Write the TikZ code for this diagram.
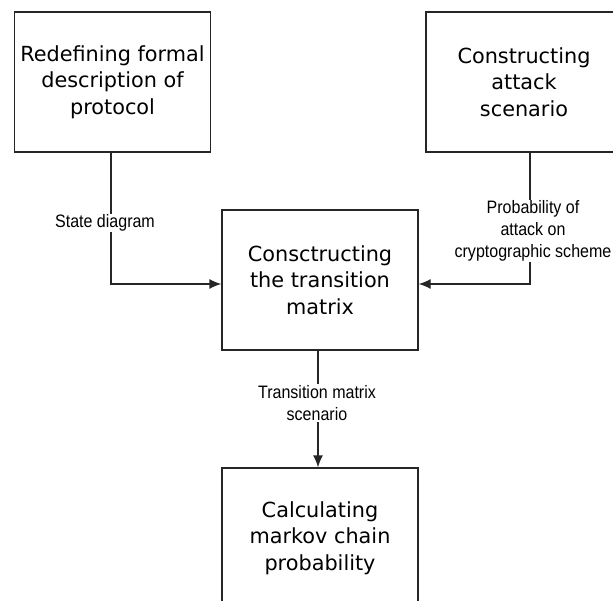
\documentclass[tikz,border=0pt]{standalone}
\usepackage{fontspec}
\usetikzlibrary{arrows.meta}
\newfontfamily\boxfont{DejaVu Sans}
\newfontfamily\lblfont[FakeStretch=0.89]{Liberation Sans}
\begin{document}
\begin{tikzpicture}[x=1pt,y=-1pt,
  stage/.style={draw=black!85,line width=1.3pt,minimum width=196pt,minimum height=140pt,
    align=center,inner sep=0pt,font=\boxfont\fontsize{20.8}{26.5}\selectfont},
  lbl/.style={fill=white,align=center,inner sep=1pt,font=\lblfont\fontsize{18}{22}\selectfont},
  conn/.style={line width=1.3pt,draw=black!85,-{Latex[length=12pt,width=10pt]}}]
\useasboundingbox (0,0) rectangle (613,601);
\clip (0,0) rectangle (613,601);
\node[stage] (b1) at (112.5,82) {Redefining formal\\description of\\protocol};
\node[stage] (b2) at (524,82) {Constructing\\attack\\scenario};
\node[stage] (b3) at (320,280) {Consctructing\\the transition\\matrix};
\node[stage] (b4) at (320,538) {Calculating\\markov chain\\probability};
\draw[conn] ([xshift=-1.5pt]b1.south) |- ([yshift=-4pt]b3.west);
\draw[conn] ([xshift=6pt]b2.south) |- ([yshift=-4pt]b3.east);
\draw[conn] ([xshift=-2pt]b3.south) -- ([xshift=-2pt]b4.north);
\node[lbl] (l1) at (105,223) {State diagram};
\node[lbl] (l2) at (533,231) {Probability of\\attack on\\cryptographic scheme};
\node[lbl] (l3) at (317,403) {Transition matrix\\scenario};
\end{tikzpicture}
\end{document}
